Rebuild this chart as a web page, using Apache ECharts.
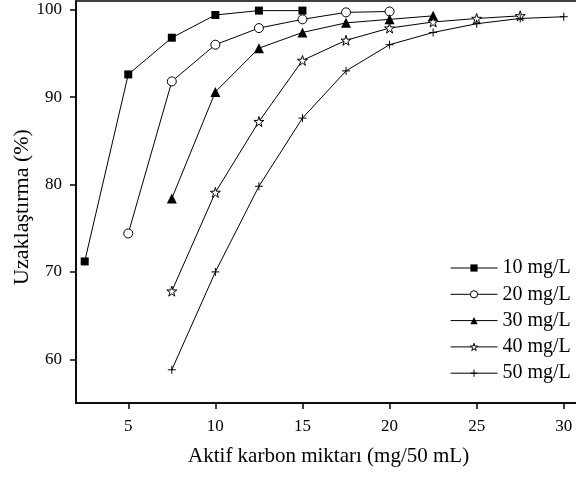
<!DOCTYPE html>
<html>
<head>
<meta charset="utf-8">
<script src="https://cdn.jsdelivr.net/npm/echarts@6/dist/echarts.min.js"></script>
<style>
html,body{margin:0;padding:0;background:#fff;}
#chart{width:576px;height:477px;}
</style>
</head>
<body>
<div id="chart"></div>
<script>
var seriesNames = ['10 mg/L','20 mg/L','30 mg/L','40 mg/L','50 mg/L'];
var x10 = [2.5,5,7.5,10,12.5,15];
var y10 = [71.2,92.6,96.8,99.4,99.9,99.9];
var x20 = [5,7.5,10,12.5,15,17.5,20];
var y20 = [74.4,91.8,96.0,97.9,98.9,99.7,99.8];
var x30 = [7.5,10,12.5,15,17.5,20,22.5];
var y30 = [78.4,90.6,95.6,97.4,98.5,98.9,99.3];
var x40 = [7.5,10,12.5,15,17.5,20,22.5,25,27.5];
var y40 = [67.8,79.1,87.2,94.2,96.5,97.9,98.6,99.0,99.3];
var x50 = [7.5,10,12.5,15,17.5,20,22.5,25,27.5,30];
var y50 = [58.8,70.0,79.8,87.6,93.0,96.0,97.4,98.4,99.0,99.2];
var xTicks = [5,10,15,20,25,30];
var yTicks = [60,70,80,90,100];

function pairs(xs, ys){ return xs.map(function(x,i){ return [x, ys[i]]; }); }

var FONT = '"Liberation Serif","Times New Roman",serif';
var starPath = 'path://M50,0 L61,35 L98,35 L68,57 L79,91 L50,70 L21,91 L32,57 L2,35 L39,35 Z';
var plusPath = 'path://M0,50L100,50M50,0L50,100';

var symbols = [
  {symbol:'rect', size:8, itemStyle:{color:'#000'}},
  {symbol:'circle', size:9, itemStyle:{color:'#fff', borderColor:'#000', borderWidth:1}},
  {symbol:'triangle', size:10, itemStyle:{color:'#000'}},
  {symbol:starPath, size:10, itemStyle:{color:'#fff', borderColor:'#000', borderWidth:1}},
  {symbol:plusPath, size:8, itemStyle:{color:'#000', borderColor:'#000', borderWidth:1}}
];
var dataSets = [pairs(x10,y10), pairs(x20,y20), pairs(x30,y30), pairs(x40,y40), pairs(x50,y50)];

var series = dataSets.map(function(d, i){
  return {
    name: seriesNames[i],
    type: 'line',
    data: d,
    symbol: symbols[i].symbol,
    symbolSize: symbols[i].size,
    showAllSymbol: true,
    lineStyle: {color:'#000', width:1},
    itemStyle: symbols[i].itemStyle,
    emphasis: {disabled: true}
  };
});

var legendData = seriesNames.map(function(n, i){
  var st = symbols[i].itemStyle;
  return {
    name: n,
    itemStyle: {color: st.color, borderColor: st.borderColor || '#000', borderWidth: st.borderWidth || 0},
    lineStyle: {color:'#000', width:1}
  };
});

var chart = echarts.init(document.getElementById('chart'));
chart.setOption({
  animation: false,
  backgroundColor: '#fff',
  grid: {left:76, top:1, right:-5.2, bottom:74, show:true, borderColor:'#000', borderWidth:1.5, backgroundColor:'transparent', containLabel:false, outerBoundsMode:'none'},
  legend: {
    data: legendData,
    orient: 'vertical',
    left: 445,
    top: 253,
    itemWidth: 47,
    itemHeight: 9,
    itemGap: 6.3,
    selectedMode: false,
    lineStyle: {width:1, color:'#000'},
    textStyle: {fontFamily: FONT, fontSize: 20, color:'#000'}
  },
  xAxis: {
    type: 'value',
    min: 2, max: 31,
    name: 'Aktif karbon miktarı (mg/50 mL)',
    nameLocation: 'middle',
    nameGap: 43,
    nameMoveOverlap: false,
    nameTextStyle: {fontFamily: FONT, fontSize: 21, color:'#000'},
    axisLine: {show:true, lineStyle:{color:'#000', width:1.5}},
    axisTick: {show:true, inside:false, length:6, lineStyle:{color:'#000', width:1.5}, customValues: xTicks},
    axisLabel: {fontFamily: FONT, fontSize: 17, color:'#000', margin: 15, customValues: xTicks},
    splitLine: {show:false}
  },
  yAxis: {
    type: 'value',
    min: 55, max: 101,
    name: 'Uzaklaştırma (%)',
    nameLocation: 'middle',
    nameGap: 43,
    nameMoveOverlap: false,
    nameRotate: 90,
    nameTextStyle: {fontFamily: FONT, fontSize: 22, color:'#000', padding:[0,10,0,0]},
    axisLine: {show:true, lineStyle:{color:'#000', width:1.5}},
    axisTick: {show:true, inside:false, length:6, lineStyle:{color:'#000', width:1.5}, customValues: yTicks},
    axisLabel: {fontFamily: FONT, fontSize: 17, color:'#000', margin: 14, customValues: yTicks},
    splitLine: {show:false}
  },
  series: series
});
</script>
</body>
</html>
